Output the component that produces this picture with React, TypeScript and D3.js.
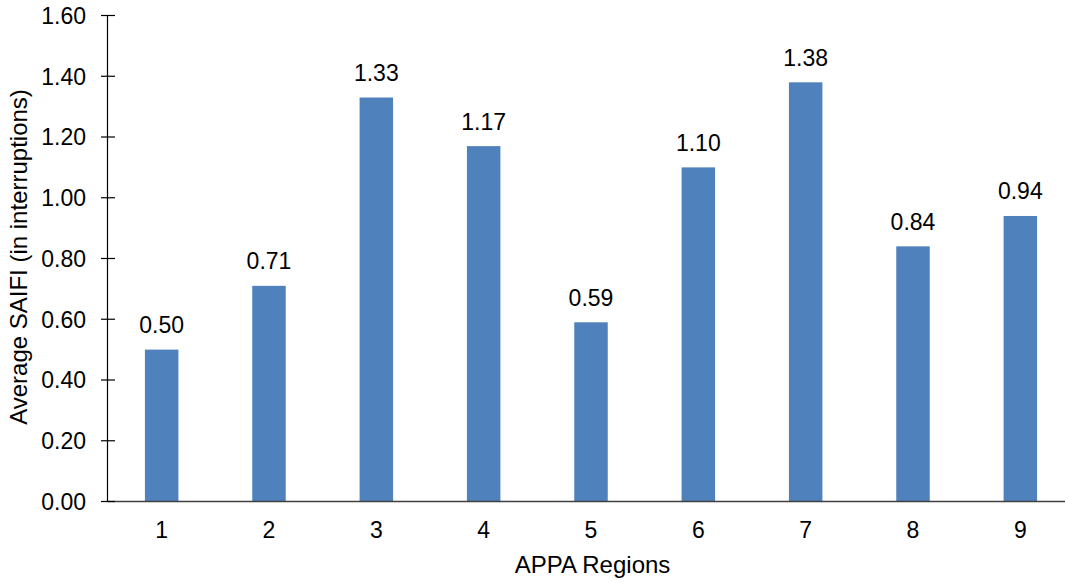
import React from "react";
import * as d3 from "d3";

const categories = ["1", "2", "3", "4", "5", "6", "7", "8", "9"];
const values = [0.5, 0.71, 1.33, 1.17, 0.59, 1.1, 1.38, 0.84, 0.94];
const yTicks = [0, 0.2, 0.4, 0.6, 0.8, 1.0, 1.2, 1.4, 1.6];
const xTitle = "APPA Regions";
const yTitle = "Average SAIFI (in interruptions)";

const W = 1065;
const H = 583;
const FONT = "'Liberation Sans', Arial, sans-serif";

export default function App() {
  const x = d3
    .scaleBand<string>()
    .domain(categories)
    .range([108, 1074])
    .paddingInner(0.688)
    .paddingOuter(0.344);
  const y = d3.scaleLinear().domain([0, 1.6]).range([501.5, 15.5]);
  const axisX = 107.5;

  return (
    <svg
      width={W}
      height={H}
      style={{ position: "absolute", left: 0, top: 0, background: "#fff" }}
      fontFamily={FONT}
    >
      <rect x={0} y={0} width={W} height={H} fill="#fff" />
      {categories.map((c, i) => (
        <g key={c}>
          <rect
            x={x(c)!}
            y={y(values[i])}
            width={x.bandwidth()}
            height={y(0) - y(values[i])}
            fill="#4F81BD"
          />
          <text
            x={x(c)! + x.bandwidth() / 2}
            y={y(values[i]) - 16.5}
            textAnchor="middle"
            fontSize={23}
            fill="#000"
          >
            {values[i].toFixed(2)}
          </text>
          <text
            x={x(c)! + x.bandwidth() / 2}
            y={537.5}
            textAnchor="middle"
            fontSize={23}
            fill="#000"
          >
            {c}
          </text>
        </g>
      ))}
      {/* x axis line */}
      <line x1={axisX} x2={W} y1={y(0)} y2={y(0)} stroke="#404040" strokeWidth={1.5} />
      {/* y axis */}
      <line x1={axisX} x2={axisX} y1={y(1.6)} y2={y(0)} stroke="#000" strokeWidth={1.2} />
      {yTicks.map((t) => (
        <g key={t}>
          <line x1={101} x2={115} y1={y(t)} y2={y(t)} stroke="#000" strokeWidth={1.2} />
          <text
            x={86}
            y={y(t)}
            dy="0.36em"
            textAnchor="end"
            fontSize={23}
            fill="#000"
          >
            {t.toFixed(2)}
          </text>
        </g>
      ))}
      <text x={592.5} y={573.3} textAnchor="middle" fontSize={24} fill="#000">
        {xTitle}
      </text>
      <text
        transform={`translate(27, 257) rotate(-90)`}
        textAnchor="middle"
        fontSize={24}
        fill="#000"
      >
        {yTitle}
      </text>
    </svg>
  );
}
